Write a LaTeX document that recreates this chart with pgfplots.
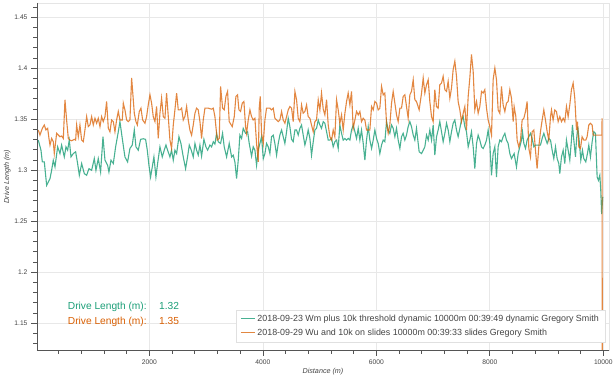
\documentclass[border=0pt]{standalone}
\usepackage{pgfplots}
\pgfplotsset{compat=1.18}
\usepackage{pgfplotstable}
\usepackage{fontspec}
\setmainfont{Liberation Sans}
\definecolor{dgreen}{HTML}{1B9E77}
\definecolor{dorange}{HTML}{D95F02}
\definecolor{axgray}{HTML}{555555}
\definecolor{txtgray}{HTML}{444444}
\definecolor{gridgray}{HTML}{E8E8E8}

\pgfplotstableread{
x y
41 1.3296
88 1.3197
112 1.3082
147 1.3082
188 1.2852
247 1.2918
276 1.3000
305 1.3099
335 1.3033
382 1.3230
423 1.3164
452 1.3247
499 1.3131
529 1.3230
558 1.3197
587 1.3296
617 1.3131
658 1.3164
699 1.3181
734 1.3066
764 1.2951
805 1.3066
852 1.2967
893 1.2951
934 1.3016
981 1.3000
1028 1.3115
1057 1.3000
1098 1.3115
1139 1.2983
1181 1.3329
1216 1.3099
1263 1.3049
1286 1.2983
1322 1.3099
1363 1.3066
1404 1.3230
1451 1.3378
1480 1.3477
1521 1.3312
1568 1.3131
1615 1.3082
1656 1.3214
1697 1.3247
1733 1.3395
1762 1.3230
1803 1.3197
1844 1.3303
1891 1.3309
1932 1.3303
1962 1.3197
1991 1.3049
2020 1.2934
2050 1.3033
2079 1.3131
2114 1.2934
2144 1.3066
2185 1.3230
2226 1.3131
2261 1.3197
2291 1.3247
2320 1.3197
2361 1.3131
2390 1.3197
2420 1.3099
2449 1.3197
2479 1.3164
2520 1.3329
2555 1.3263
2596 1.3131
2637 1.3016
2672 1.3131
2702 1.3247
2737 1.3197
2772 1.3131
2802 1.3263
2831 1.3197
2860 1.3148
2890 1.3247
2919 1.3138
2960 1.3303
2995 1.3230
3025 1.3197
3066 1.3247
3095 1.3230
3125 1.3280
3154 1.3257
3183 1.3362
3213 1.3280
3254 1.3263
3289 1.3362
3318 1.3230
3360 1.3131
3406 1.3263
3448 1.3131
3477 1.3148
3506 1.3082
3536 1.2918
3565 1.3099
3594 1.3345
3624 1.3312
3653 1.3411
3694 1.3362
3730 1.3378
3759 1.3263
3800 1.3138
3829 1.3230
3859 1.3197
3888 1.3049
3918 1.3197
3947 1.3263
3976 1.3329
4006 1.3115
4035 1.3164
4064 1.3263
4094 1.3230
4123 1.3164
4152 1.3329
4182 1.3345
4211 1.3263
4241 1.3148
4270 1.3263
4299 1.3345
4329 1.3395
4358 1.3329
4387 1.3263
4417 1.3378
4446 1.3510
4475 1.3428
4505 1.3303
4534 1.3280
4564 1.3395
4593 1.3395
4622 1.3345
4652 1.3411
4681 1.3444
4710 1.3345
4740 1.3247
4769 1.3312
4798 1.3395
4828 1.3312
4857 1.3148
4887 1.3280
4916 1.3395
4945 1.3411
4975 1.3493
5004 1.3444
5033 1.3411
5063 1.3477
5092 1.3461
5122 1.3378
5151 1.3296
5180 1.3296
5210 1.3312
5239 1.3230
5268 1.3280
5298 1.3296
5327 1.3214
5356 1.3444
5386 1.3362
5415 1.3296
5445 1.3312
5474 1.3296
5503 1.3312
5533 1.3296
5562 1.3395
5591 1.3444
5621 1.3378
5650 1.3312
5680 1.3411
5709 1.3296
5738 1.3395
5768 1.3263
5797 1.3099
5826 1.3296
5856 1.3428
5885 1.3296
5915 1.3214
5944 1.3296
5973 1.3395
6003 1.3312
6032 1.3263
6061 1.3164
6091 1.3247
6120 1.3296
6149 1.3280
6179 1.3477
6208 1.3395
6237 1.3362
6267 1.3444
6296 1.3411
6326 1.3329
6355 1.3411
6384 1.3296
6414 1.3214
6443 1.3329
6472 1.3362
6502 1.3296
6531 1.3345
6560 1.3428
6590 1.3477
6619 1.3428
6649 1.3345
6678 1.3296
6707 1.3411
6754 1.3181
6796 1.3164
6825 1.3197
6854 1.3230
6884 1.3345
6913 1.3296
6942 1.3395
6972 1.3296
7001 1.3444
7030 1.3148
7060 1.3329
7089 1.3395
7118 1.3477
7148 1.3378
7177 1.3280
7207 1.3362
7236 1.3461
7265 1.3395
7295 1.3280
7324 1.3378
7353 1.3461
7383 1.3493
7412 1.3395
7441 1.3329
7471 1.3411
7500 1.3493
7530 1.3526
7559 1.3428
7588 1.3378
7618 1.3230
7647 1.3296
7676 1.3378
7706 1.3230
7735 1.3016
7765 1.3263
7794 1.3345
7823 1.3296
7853 1.3230
7882 1.3214
7911 1.3247
7941 1.3296
7970 1.3395
7999 1.3263
8029 1.2951
8058 1.3164
8088 1.3230
8117 1.2934
8146 1.3230
8176 1.3296
8205 1.3280
8234 1.3329
8264 1.3362
8293 1.3296
8322 1.3263
8352 1.3164
8381 1.3115
8428 1.3164
8469 1.3033
8499 1.3164
8528 1.3230
8558 1.3296
8575 1.3378
8599 1.3263
8628 1.3214
8657 1.3296
8687 1.3329
8716 1.3362
8745 1.3312
8775 1.3230
8804 1.3247
8833 1.3247
8863 1.3247
8892 1.3247
8922 1.3312
8951 1.3362
8980 1.3312
9010 1.3263
9039 1.3312
9069 1.3296
9098 1.3197
9127 1.3115
9157 1.3230
9186 1.3115
9215 1.3066
9233 1.2967
9262 1.3131
9292 1.3197
9321 1.3066
9350 1.3296
9380 1.3197
9409 1.3099
9438 1.3296
9456 1.3444
9480 1.3296
9509 1.3131
9527 1.3296
9550 1.3428
9574 1.3296
9603 1.3099
9632 1.3197
9656 1.3115
9691 1.3082
9720 1.3164
9744 1.3247
9773 1.3131
9803 1.3280
9832 1.3378
9861 1.3362
9891 1.2934
9914 1.2901
9938 1.2951
9955 1.2803
9970 1.2570
9990 1.2740
}\greendata

\pgfplotstableread{
x y
41 1.3395
70 1.3345
112 1.3411
147 1.3444
176 1.3395
206 1.3411
229 1.3312
247 1.3247
276 1.3312
305 1.3280
323 1.3164
347 1.3280
364 1.3362
394 1.3345
423 1.3329
452 1.3336
482 1.3312
511 1.3691
540 1.3493
570 1.3312
599 1.3296
628 1.3289
675 1.3303
699 1.3296
717 1.3444
746 1.3329
775 1.3444
805 1.3296
834 1.3280
863 1.3395
893 1.3526
922 1.3428
951 1.3444
981 1.3526
1010 1.3444
1040 1.3510
1069 1.3461
1098 1.3510
1128 1.3428
1157 1.3526
1186 1.3477
1216 1.3526
1245 1.3674
1275 1.3411
1304 1.3378
1333 1.3493
1363 1.3477
1392 1.3378
1421 1.3493
1451 1.3576
1480 1.3493
1521 1.3493
1539 1.3658
1568 1.3592
1598 1.3493
1627 1.3477
1656 1.3493
1686 1.3905
1733 1.3559
1762 1.3477
1786 1.3444
1821 1.3576
1850 1.3609
1880 1.3493
1921 1.3461
1950 1.3526
1979 1.3641
2009 1.3740
2038 1.3658
2067 1.3526
2097 1.3477
2126 1.3625
2155 1.3312
2185 1.3559
2214 1.3707
2244 1.3526
2273 1.3510
2302 1.3757
2332 1.3526
2361 1.3296
2390 1.3214
2420 1.3444
2449 1.3592
2479 1.3757
2508 1.3592
2537 1.3592
2567 1.3609
2596 1.3493
2625 1.3526
2655 1.3625
2684 1.3493
2713 1.3395
2743 1.3345
2772 1.3444
2802 1.3559
2831 1.3609
2860 1.3592
2890 1.3477
2919 1.3312
2948 1.3493
2978 1.3609
3037 1.3609
3095 1.3599
3125 1.3609
3154 1.3526
3195 1.3296
3230 1.3312
3254 1.3822
3289 1.3609
3318 1.3592
3348 1.3724
3377 1.3773
3406 1.3477
3459 1.3428
3495 1.3526
3524 1.3724
3553 1.3740
3577 1.3592
3606 1.3576
3636 1.3658
3665 1.3674
3694 1.3428
3712 1.3362
3741 1.3493
3771 1.3592
3800 1.3526
3829 1.3493
3859 1.3510
3888 1.3263
3918 1.3082
3935 1.3609
3953 1.3724
3976 1.3362
4006 1.3263
4035 1.3493
4064 1.3609
4094 1.3609
4123 1.3609
4152 1.3592
4182 1.3609
4211 1.3510
4241 1.3493
4270 1.3477
4299 1.3493
4329 1.3576
4358 1.3493
4387 1.3461
4417 1.3526
4446 1.3592
4475 1.3625
4505 1.3609
4534 1.3477
4564 1.3773
4593 1.3691
4622 1.3510
4652 1.3477
4681 1.3641
4710 1.3559
4740 1.3576
4769 1.3641
4798 1.3526
4828 1.3510
4857 1.3444
4887 1.3378
4916 1.3477
4945 1.3493
4975 1.3691
5004 1.3592
5033 1.3757
5063 1.3600
5092 1.3543
5122 1.3691
5151 1.3444
5180 1.3329
5210 1.3296
5239 1.3395
5268 1.3329
5298 1.3691
5327 1.3592
5356 1.3461
5386 1.3543
5415 1.3395
5445 1.3559
5474 1.3674
5503 1.3757
5533 1.3641
5562 1.3773
5591 1.3411
5621 1.3493
5650 1.3576
5680 1.3543
5709 1.3576
5738 1.3477
5768 1.3510
5797 1.3493
5826 1.3395
5856 1.3395
5885 1.3395
5915 1.3625
5944 1.3592
5973 1.3674
6003 1.3658
6032 1.3592
6061 1.3609
6091 1.3822
6120 1.3740
6149 1.3757
6179 1.3461
6208 1.3362
6237 1.3444
6267 1.3658
6296 1.3773
6326 1.3658
6355 1.3543
6384 1.3477
6414 1.3609
6443 1.3609
6472 1.3724
6502 1.3740
6531 1.3625
6560 1.3510
6590 1.3740
6619 1.3773
6649 1.3888
6678 1.3691
6707 1.3674
6754 1.3592
6796 1.3757
6825 1.3905
6854 1.3757
6884 1.3839
6913 1.3888
6942 1.3674
6972 1.3526
7001 1.3477
7030 1.3790
7060 1.3625
7089 1.3609
7118 1.3839
7148 1.3855
7177 1.3921
7207 1.3790
7236 1.3773
7265 1.3872
7295 1.3707
7324 1.3806
7353 1.3987
7383 1.4069
7412 1.3921
7441 1.3674
7471 1.3592
7500 1.3477
7530 1.3559
7559 1.3625
7588 1.3395
7618 1.3724
7647 1.3905
7676 1.4135
7706 1.3970
7735 1.3592
7765 1.3674
7794 1.3559
7823 1.3625
7853 1.3773
7882 1.3757
7911 1.3790
7941 1.3609
7970 1.3493
7999 1.3428
8029 1.3345
8058 1.3888
8088 1.4003
8117 1.3888
8146 1.3592
8176 1.3559
8205 1.3822
8234 1.3641
8264 1.3576
8293 1.3658
8322 1.3674
8352 1.3790
8381 1.3707
8411 1.3477
8428 1.3625
8458 1.3526
8481 1.3296
8510 1.3230
8540 1.3296
8569 1.3493
8599 1.3510
8628 1.3576
8657 1.3674
8687 1.3214
8716 1.3131
8745 1.3378
8775 1.3395
8804 1.3197
8833 1.3016
8863 1.3230
8892 1.3378
8922 1.3493
8951 1.3592
8980 1.3493
9010 1.3378
9039 1.3296
9069 1.3526
9086 1.3592
9115 1.3493
9145 1.3592
9174 1.3576
9204 1.3477
9233 1.3526
9262 1.3477
9292 1.3510
9321 1.3477
9350 1.3625
9380 1.3526
9409 1.3641
9438 1.3790
9468 1.3855
9497 1.3707
9527 1.3395
9544 1.3477
9568 1.3230
9597 1.3214
9626 1.3329
9656 1.3296
9691 1.3296
9714 1.3329
9744 1.3444
9773 1.3461
9803 1.3444
9820 1.3345
9975 1.3345
9978 1.3510
9982 1.0500
}\orangedata

\begin{document}
\begin{tikzpicture}
\useasboundingbox (-37pt,-30pt) rectangle (577pt,350pt);
\begin{axis}[
  at={(0pt,0pt)}, anchor=south west,
  scale only axis, width=572pt, height=347pt,
  xmin=18, xmax=10100, ymin=1.1238, ymax=1.464,
  axis x line*=bottom, axis y line*=left,
  axis line style={draw=axgray, line width=0.8pt, -},
  xtick={0,2000,4000,6000,8000,10000},
  ytick={1.1,1.15,1.2,1.25,1.3,1.35,1.4,1.45,1.5},
  minor x tick num=4, minor y tick num=4,
  tick align=outside,
  major tick length=6pt, minor tick length=4pt,
  every tick/.style={draw=axgray, line width=0.8pt},
  grid=major, major grid style={draw=gridgray, line width=0.8pt},
  scaled x ticks=false, scaled y ticks=false,
  /pgf/number format/assume math mode=true,
  /pgf/number format/1000 sep={},
  tick label style={font=\fontsize{6.7}{8}\selectfont, text=txtgray},
  xlabel={Distance (m)}, ylabel={Drive Length (m)},
  every axis x label/.style={at={(axis description cs:0.5,-0.0625)}, anchor=center, font=\itshape\fontsize{7.2}{8}\selectfont, text=txtgray},
  every axis y label/.style={at={(axis description cs:-0.0519,0.5)}, rotate=90, anchor=center, font=\itshape\fontsize{7.2}{8}\selectfont, text=txtgray},
  legend style={at={(0.993,0.023)}, anchor=south east, draw=black!12, fill=white, font=\fontsize{8.9}{10}\selectfont, text=txtgray, inner xsep=4pt, inner ysep=3pt, row sep=2pt},
  legend cell align=left,
  legend image code/.code={\draw[#1] (0pt,0pt) -- (14pt,0pt);},
]
\addplot[dgreen, opacity=0.8, line width=1.1pt] table[x=x,y=y] {\greendata};
\addlegendentry{2018-09-23 Wm plus 10k threshold dynamic 10000m 00:39:49 dynamic Gregory Smith}
\addplot[dorange, opacity=0.75, line width=1.1pt] table[x=x,y=y] {\orangedata};
\addlegendentry{2018-09-29 Wu and 10k on slides 10000m 00:39:33 slides Gregory Smith}
\end{axis}
\draw[black!10, line width=0.6pt] (0pt,0pt) rectangle (572pt,347pt);
\draw[axgray, line width=0.8pt] (0pt,347pt) -- (0pt,0pt) -- (572pt,0pt);
\node[anchor=base west, text=dgreen, font=\fontsize{10.2}{12}\selectfont, inner sep=0pt] at (30.7pt,40pt) {Drive Length (m):};
\node[anchor=base west, text=dgreen, font=\fontsize{10.2}{12}\selectfont, inner sep=0pt] at (122pt,40pt) {1.32};
\node[anchor=base west, text=dorange, font=\fontsize{10.2}{12}\selectfont, inner sep=0pt] at (30.7pt,25.7pt) {Drive Length (m):};
\node[anchor=base west, text=dorange, font=\fontsize{10.2}{12}\selectfont, inner sep=0pt] at (122pt,25.7pt) {1.35};
\end{tikzpicture}
\end{document}
